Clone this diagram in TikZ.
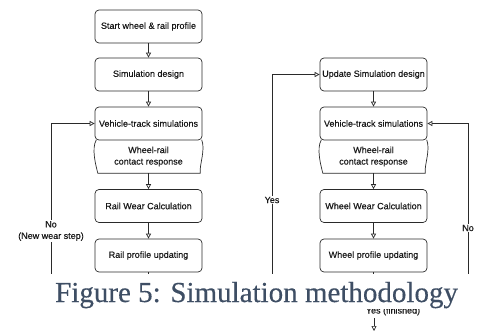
\documentclass[tikz,border=0pt]{standalone}
\usepackage{fontspec}
\setmainfont{Liberation Serif}
\newfontfamily\boxfont[FakeBold=0.4]{Liberation Sans}
\newfontfamily\capfont[FakeBold=0.3]{Liberation Serif}
\usetikzlibrary{arrows.meta,positioning,calc}

\definecolor{capblue}{HTML}{3E4E64}
\definecolor{linegray}{HTML}{2A2A2A}

\begin{document}
\begin{tikzpicture}[x=1pt,y=-1pt]
        \tikzset{
            every node/.style={font=\boxfont\fontsize{9}{11.5}\selectfont,text=black!90},
            box/.style={draw=linegray,line width=0.7pt,rounded corners=4pt,minimum width=107pt,minimum height=33pt,inner sep=1pt},
            tape/.style={minimum width=107pt,minimum height=33pt,inner sep=0pt,align=center},
            flow/.style={draw=linegray,line width=0.7pt,-{Triangle[open,length=5pt,width=5pt]}},
            wire/.style={draw=linegray,line width=0.7pt},
            lbl/.style={fill=white,inner sep=1pt,align=center}
        }
        \useasboundingbox (0,0) rectangle (479,332);

        %%% Rail side
        \node[box] (start) at (148.5,26.5) {Start wheel \& rail profile};
        \node[box] (simdesign) at (148.5,74.5) {Simulation design};
        \node[box] (vtsimL) at (148.5,123.5) {Vehicle-track simulations};
        \node[tape] (contactL) at (148.5,156.5) {Wheel-rail\\contact response};
        \node[box] (railwear) at (148.5,206) {Rail Wear Calculation};
        \node[box] (railupd) at (148.5,255.5) {Rail profile updating};
        \coordinate (railout) at (148.5,290);
        \coordinate (loopL) at (51,290);

        \draw[wire] ($(contactL.north west)+(1.5,0)$) .. controls +(-5,9) and +(-2,-8) .. ($(contactL.south west)+(3,0)$)
            -- ($(contactL.south east)+(-2,0)$) .. controls +(-1,-8) and +(4,10) .. ($(contactL.north east)+(-0.5,0)$);

        \draw[flow] (start) edge (simdesign);
        \draw[flow] (simdesign) edge (vtsimL);
        \draw[flow] (contactL) edge (railwear);
        \draw[flow] (railwear) edge (railupd);
        \draw[wire] (railupd) -- (railout);
        \draw[flow] (loopL) |- (vtsimL.west);
        \node[lbl] (nostep) at (51,231) {No\\(New wear step)};

        %%% Wheel side
        \node[box] (updsim) at (373.5,74.5) {Update Simulation design};
        \node[box] (vtsimR) at (373.5,123.5) {Vehicle-track simulations};
        \node[tape] (contactR) at (373.5,156.5) {Wheel-rail\\contact response};
        \node[box] (wheelwear) at (373.5,206) {Wheel Wear Calculation};
        \node[box] (wheelupd) at (373.5,255.5) {Wheel profile updating};
        \coordinate (wheelout) at (373.5,290);
        \coordinate (yesloop) at (272,290);
        \coordinate (noloop) at (468,290);

        \draw[wire] ($(contactR.north west)+(1.5,0)$) .. controls +(-5,9) and +(-2,-8) .. ($(contactR.south west)+(3,0)$)
            -- ($(contactR.south east)+(-2,0)$) .. controls +(-1,-8) and +(4,10) .. ($(contactR.north east)+(-0.5,0)$);

        \draw[flow] (updsim) edge (vtsimR);
        \draw[flow] (contactR) edge (wheelwear);
        \draw[flow] (wheelwear) edge (wheelupd);
        \draw[wire] (wheelupd) -- (wheelout);
        \draw[flow] (yesloop) |- (updsim.west);
        \draw[flow] (noloop) |- (vtsimR.east);
        \node[lbl] (yes) at (272,200) {Yes};
        \node[lbl] (no) at (468,228) {No};

        %%% finished
        \node[anchor=base] (finished) at (393,313.5) {Yes (finished)};
        \coordinate (endtop) at (374,318);
        \coordinate (endbot) at (374,331);
        \draw[flow] (endtop) -- (endbot);

        %%% caption band
        \fill[white] (0,274) rectangle (479,308.5);
        \node[anchor=base west,inner sep=0pt,font=\capfont\fontsize{29}{30}\selectfont,text=capblue] (caption) at (55,302) {Figure 5: Simulation methodology};
\end{tikzpicture}
\end{document}
